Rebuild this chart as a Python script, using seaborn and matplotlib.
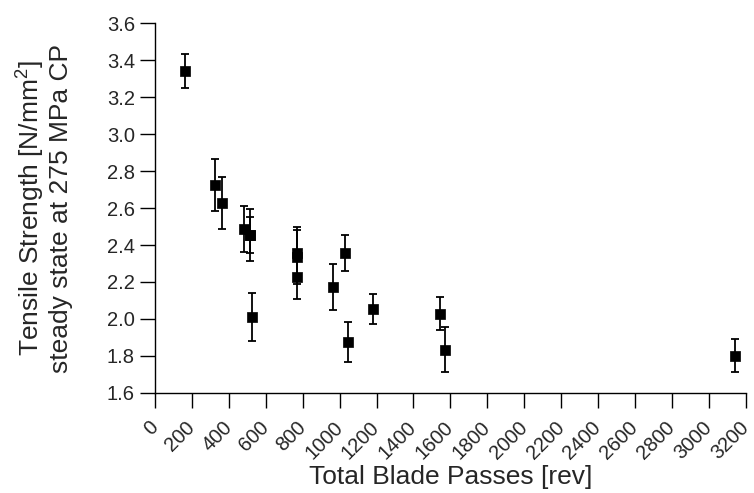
import numpy as np
import pandas as pd
import matplotlib
matplotlib.use("Agg")
import matplotlib.pyplot as plt
import seaborn as sns

# values
blade_passes = [163, 324, 363, 484, 515, 515, 524, 770, 770, 770,
                965, 1029, 1047, 1179, 1542, 1571, 3142]
tensile = [3.342, 2.724, 2.629, 2.485, 2.452, 2.455, 2.011, 2.355, 2.335, 2.229,
           2.175, 2.358, 1.876, 2.054, 2.029, 1.834, 1.802]
err = [0.090, 0.142, 0.140, 0.124, 0.141, 0.098, 0.129, 0.145, 0.145, 0.120,
       0.124, 0.096, 0.108, 0.083, 0.090, 0.120, 0.091]
xticks = list(range(0, 3201, 200))
yticks = [1.6, 1.8, 2.0, 2.2, 2.4, 2.6, 2.8, 3.0, 3.2, 3.4, 3.6]

df = pd.DataFrame({"passes": blade_passes, "strength": tensile, "err": err})

sns.set_style("ticks")
plt.rcParams["font.family"] = ["Liberation Sans", "DejaVu Sans"]
plt.rcParams["mathtext.fontset"] = "custom"
plt.rcParams["mathtext.rm"] = "Liberation Sans"

fig, ax = plt.subplots(figsize=(7.54, 4.93), dpi=100)
fig.subplots_adjust(left=0.2056, right=0.989, bottom=0.203, top=0.953)

ax.errorbar(df["passes"], df["strength"], yerr=df["err"], fmt="none",
            ecolor="black", elinewidth=1.3, capsize=3, capthick=1.3, zorder=2)
sns.scatterplot(data=df, x="passes", y="strength", marker="s", s=42,
                color="black", edgecolor="black", linewidth=0.5, ax=ax, zorder=3)

ax.set_xlim(0, 3200)
ax.set_ylim(1.6, 3.6)
ax.set_xticks(xticks)
ax.set_yticks(yticks)
ax.set_yticklabels([f"{v:.1f}" for v in yticks])
ax.set_xticklabels([str(v) for v in xticks], rotation=45, ha="right",
                   va="center", rotation_mode="anchor")
ax.tick_params(axis="both", direction="out", length=10.5, width=1,
               color="black", labelsize=14.5, pad=4)
ax.tick_params(axis="x", pad=12)
for s in ["left", "bottom"]:
    ax.spines[s].set_linewidth(1)
    ax.spines[s].set_color("black")
sns.despine(ax=ax)

ax.set_xlabel("Total Blade Passes [rev]", fontsize=19, labelpad=2)
ax.set_ylabel("Tensile Strength [N/mm$^2$]\nsteady state at 275 MPa CP",
              fontsize=19, labelpad=24)

fig.savefig("out.png", dpi=100)
